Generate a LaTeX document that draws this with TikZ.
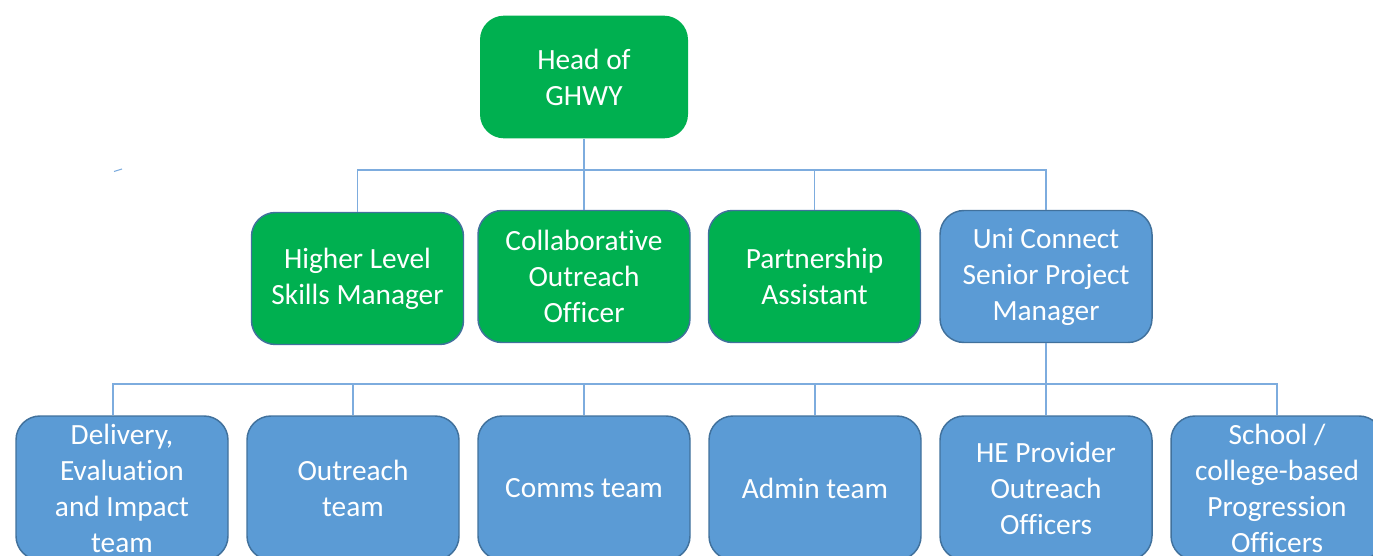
\documentclass[tikz,border=0pt]{standalone}
\usepackage{fontspec}
\setmainfont{Carlito}[Ligatures=NoCommon]
\usepackage{xcolor}
\usepackage{tikz}

\definecolor{boxgreen}{RGB}{0,176,80}
\definecolor{boxblue}{RGB}{91,155,213}
\definecolor{boxedge}{RGB}{65,113,156}
\definecolor{linkblue}{RGB}{125,172,222}

\tikzset{
  post/.style={rounded corners=18pt, text=white, align=center, inner sep=0pt,
    font=\fontsize{22}{27}\selectfont, minimum width=159pt},
  headbox/.style={post, fill=boxgreen, minimum width=156pt, minimum height=92pt},
  greenbox/.style={post, fill=boxgreen, draw=boxedge, line width=1.1pt, minimum height=99pt},
  bluebox/.style={post, fill=boxblue, draw=boxedge, line width=1.1pt, minimum height=99pt},
  teambox/.style={post, fill=boxblue, draw=boxedge, line width=1.1pt, minimum height=108pt},
  link/.style={draw=linkblue, line width=0.8pt}
}

\begin{document}
\begin{tikzpicture}[x=0.75pt,y=0.75pt,yscale=-1,xscale=1]
\useasboundingbox (0,0) rectangle (1373,556);
\clip (0,0) rectangle (1373,556);

% top of the chart
\node[headbox] (head) at (584,77) {Head of\\GHWY};

% second level
\node[greenbox] (hls) at (357.5,278.5) {Higher Level\\Skills Manager};
\node[greenbox] (cao) at (584,276.5) {Collaborative\\Outreach\\Officer};
\node[greenbox] (pa) at (814.5,276.5) {Partnership\\Assistant};
\node[bluebox] (uc) at (1046,276.5) {Uni Connect\\Senior Project\\Manager};

% teams under Uni Connect
\node[teambox] (dei) at (122,488) {Delivery,\\Evaluation\\and Impact\\team};
\node[teambox] (out) at (353,488) {Outreach\\team};
\node[teambox] (comms) at (584,488) {Comms team};
\node[teambox] (admin) at (815,488) {Admin team};
\node[teambox] (hep) at (1046,488) {HE Provider\\Outreach\\Officers};
\node[teambox] (school) at (1277,488) {School /\\college-based\\Progression\\Officers};

% connectors
\coordinate (busA) at (584,170);
\draw[link] (head.south) -- (busA);
\foreach \n in {hls,cao,pa,uc}
  \draw[link] (\n.north) |- (busA);

\coordinate (busB) at (1046,384);
\draw[link] (uc.south) -- (busB);
\foreach \n in {out,comms,admin,hep,school}
  \draw[link] (\n.north) |- (busB);
\draw[link] ([xshift=-6.75pt]dei.north) |- (busB);

% small stray stroke left of the first bus
\draw[link] (114,171.5) -- (122,169);

\end{tikzpicture}
\end{document}
